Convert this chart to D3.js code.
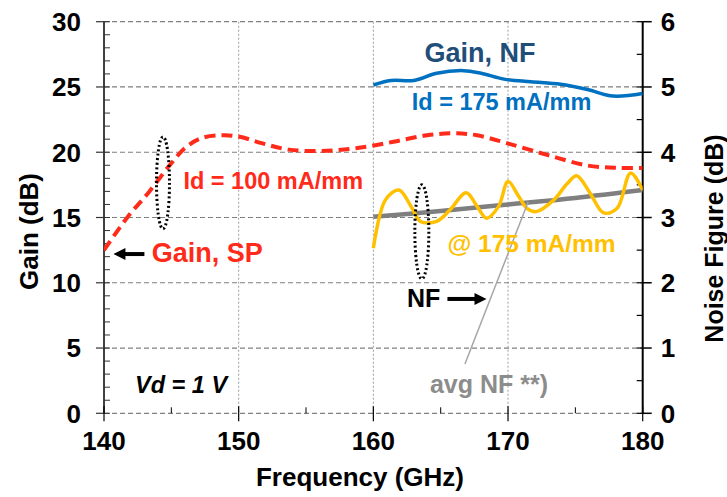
<!DOCTYPE html>
<meta charset="utf-8">
<style>
body { margin: 0; background: #fff; }
svg text { font-family: "Liberation Sans", Arial, sans-serif; font-weight: bold; }
.grid-h { stroke: #7f7f7f; stroke-width: 1.2px; stroke-dasharray: 5,3; }
.grid-v { stroke: #9a9a9a; stroke-width: 1px; stroke-dasharray: 2,2; }
</style>
<svg width="727" height="497"></svg>
<script src="https://d3js.org/d3.v7.min.js"></script>
<script>
// Gain, SP @ Id = 100 mA/mm (dB)
var spFreq = [140, 141.8, 143.3, 144.8, 146.1, 147.3, 148.8, 150, 151.7, 153.7, 156.2, 158.7, 161.5, 164, 166, 167.7, 169.9, 172.9, 175.8, 178.1, 180];
var spGain = [12.5, 15.1, 16.9, 18.9, 20.4, 21.1, 21.3, 21.2, 20.7, 20.2, 20.1, 20.3, 20.8, 21.3, 21.45, 21.3, 20.7, 19.8, 19.0, 18.8, 18.8];

// Gain from NF measurement @ Id = 175 mA/mm (dB)
var nfgFreq = [160, 161.3, 163, 164.7, 166.7, 168, 169.7, 171.7, 173.9, 175.9, 177.8, 180];
var nfgGain = [25.15, 25.5, 25.5, 26.05, 26.25, 26.05, 25.6, 25.4, 25.2, 24.8, 24.3, 24.5];

// Noise figure @ 175 mA/mm (dB)
var nfFreq = [160, 160.9, 161.9, 162.8, 163.5, 164.7, 165.7, 166.9, 167.7, 168.4, 169.3, 170, 170.8, 171.4, 172.1, 173.4, 174.4, 175.1, 176.1, 177.1, 178.1, 179.1, 180];
var nfVal  = [2.53, 3.27, 3.42, 3.17, 2.94, 2.94, 3.12, 3.38, 3.17, 2.99, 3.17, 3.55, 3.32, 3.14, 3.09, 3.27, 3.52, 3.64, 3.37, 3.07, 3.14, 3.68, 3.42];

// average NF (dB)
var avgFreq = [160, 165, 170, 175, 180];
var avgNF   = [3.01, 3.10, 3.20, 3.30, 3.42];

var xTicks = [140, 150, 160, 170, 180];
var gainTicks = [0, 5, 10, 15, 20, 25, 30];
var nfTicks = [0, 1, 2, 3, 4, 5, 6];

var svg = d3.select("svg"),
    margin = {top: 21.7, right: 84.3, bottom: 83.7, left: 104},
    width = +svg.attr("width") - margin.left - margin.right,
    height = +svg.attr("height") - margin.top - margin.bottom;

var g = svg.append("g").attr("transform", "translate(" + margin.left + "," + margin.top + ")");

var x = d3.scaleLinear().domain([140, 180]).range([0, width]);
var y = d3.scaleLinear().domain([0, 30]).range([height, 0]);
var y2 = d3.scaleLinear().domain([0, 6]).range([height, 0]);

// grid
g.append("g").selectAll("line").data([150, 160, 170]).enter().append("line")
    .attr("class", "grid-v")
    .attr("x1", x).attr("x2", x).attr("y1", 0).attr("y2", height);
g.append("g").selectAll("line").data(gainTicks).enter().append("line")
    .attr("class", "grid-h")
    .attr("x1", 0).attr("x2", width).attr("y1", y).attr("y2", y);

// left axis
var left = g.append("g");
left.append("line").attr("x1", 0).attr("x2", 0).attr("y1", 0).attr("y2", height)
    .attr("stroke", "#000").attr("stroke-width", 1.5);
left.selectAll(".minor").data(d3.range(0, 31)).enter().append("line")
    .attr("x1", 0).attr("x2", 6).attr("y1", y).attr("y2", y)
    .attr("stroke", "#333").attr("stroke-width", 1);
left.selectAll(".major").data(gainTicks).enter().append("line")
    .attr("x1", -8).attr("x2", 0).attr("y1", y).attr("y2", y)
    .attr("stroke", "#333").attr("stroke-width", 1.2);
left.selectAll("text").data(gainTicks).enter().append("text")
    .attr("x", -23).attr("y", y).attr("dy", "0.36em")
    .attr("text-anchor", "end").style("font-size", "26px")
    .text(function(d) { return d; });

// right axis
var right = g.append("g").attr("transform", "translate(" + width + ",0)");
right.append("line").attr("x1", 0).attr("x2", 0).attr("y1", 0).attr("y2", height)
    .attr("stroke", "#000").attr("stroke-width", 2);
right.selectAll(".minor").data(d3.range(0, 6.01, 0.5)).enter().append("line")
    .attr("x1", -6).attr("x2", 0).attr("y1", y2).attr("y2", y2)
    .attr("stroke", "#000").attr("stroke-width", 1.2);
right.selectAll(".major").data(nfTicks).enter().append("line")
    .attr("x1", 0).attr("x2", 9).attr("y1", y2).attr("y2", y2)
    .attr("stroke", "#000").attr("stroke-width", 1.5);
right.selectAll("text").data(nfTicks).enter().append("text")
    .attr("x", 18).attr("y", y2).attr("dy", "0.36em")
    .style("font-size", "26px")
    .text(function(d) { return d; });

// bottom axis ticks
var bottom = g.append("g").attr("transform", "translate(0," + height + ")");
bottom.selectAll(".major").data(xTicks).enter().append("line")
    .attr("x1", x).attr("x2", x).attr("y1", -7).attr("y2", 8)
    .attr("stroke", "#000").attr("stroke-width", 1.2);
bottom.selectAll(".minor").data([145, 155, 165, 175]).enter().append("line")
    .attr("x1", x).attr("x2", x).attr("y1", -6).attr("y2", 0)
    .attr("stroke", "#000").attr("stroke-width", 1);
bottom.selectAll("text").data(xTicks).enter().append("text")
    .attr("x", x).attr("y", 37)
    .attr("text-anchor", "middle").style("font-size", "26px")
    .text(function(d) { return d; });

// axis titles
svg.append("text").attr("transform", "translate(29," + (margin.top + height / 2 + 14) + ") rotate(-90)")
    .attr("text-anchor", "middle").attr("dy", "0.36em").style("font-size", "26px").text("Gain (dB)");
svg.append("text").attr("transform", "translate(714," + (margin.top + height / 2 + 21) + ") rotate(-90)")
    .attr("text-anchor", "middle").attr("dy", "0.34em").style("font-size", "25px").text("Noise Figure (dB)");
svg.append("text").attr("x", 360).attr("y", 486)
    .attr("text-anchor", "middle").style("font-size", "26px").text("Frequency (GHz)");

// curves
var clip = g.append("clipPath").attr("id", "plotclip").append("rect")
    .attr("x", 0).attr("y", -5).attr("width", width).attr("height", height + 5);

var lineGain = d3.line().x(function(d) { return x(d[0]); }).y(function(d) { return y(d[1]); })
    .curve(d3.curveCatmullRom.alpha(0.5));
var lineNF = d3.line().x(function(d) { return x(d[0]); }).y(function(d) { return y2(d[1]); })
    .curve(d3.curveCatmullRom.alpha(0.5));

var curves = g.append("g").attr("clip-path", "url(#plotclip)");

curves.append("path").datum(d3.zip(avgFreq, avgNF)).attr("d", lineNF)
    .attr("fill", "none").attr("stroke", "#7f7f7f").attr("stroke-width", 4.5);

curves.append("path").datum(d3.zip(nfFreq, nfVal)).attr("d", lineNF)
    .attr("fill", "none").attr("stroke", "#ffc000").attr("stroke-width", 3.5);

curves.append("path").datum(d3.zip(nfgFreq, nfgGain)).attr("d", lineGain)
    .attr("fill", "none").attr("stroke", "#0070c0").attr("stroke-width", 3.5);

curves.append("path").datum(d3.zip(spFreq, spGain)).attr("d", lineGain)
    .attr("fill", "none").attr("stroke", "#ff2a1a").attr("stroke-width", 4)
    .attr("stroke-dasharray", "11,6");

// ellipses
g.append("ellipse").attr("cx", x(144.38)).attr("cy", y(17.65)).attr("rx", 6.5).attr("ry", 46)
    .attr("fill", "none").attr("stroke", "#000").attr("stroke-width", 3).attr("stroke-dasharray", "2,2.5");
g.append("ellipse").attr("cx", x(163.6)).attr("cy", y(13.9)).attr("rx", 7).attr("ry", 47)
    .attr("fill", "none").attr("stroke", "#000").attr("stroke-width", 3).attr("stroke-dasharray", "2,2.5");

// leader to avg NF
g.append("line").attr("x1", x(166.8)).attr("y1", y(3.78)).attr("x2", x(171.5)).attr("y2", y(16.2))
    .attr("stroke", "#a6a6a6").attr("stroke-width", 1.5);

// arrows
function arrow(x1, yv, x2) {
  var dir = x2 > x1 ? 1 : -1;
  var px1 = x(x1), px2 = x(x2), py = y(yv);
  g.append("line").attr("x1", px1).attr("y1", py).attr("x2", px2 - dir * 8).attr("y2", py)
      .attr("stroke", "#000").attr("stroke-width", 4);
  g.append("path").attr("d", "M" + px2 + "," + py + "L" + (px2 - dir * 12) + "," + (py - 6) + "L" + (px2 - dir * 12) + "," + (py + 6) + "Z")
      .attr("fill", "#000");
}
arrow(143.0, 12.2, 140.7);
arrow(165.5, 8.76, 168.4);

// annotations
function label(txt, f, gv, color, size, italic) {
  var t = g.append("text").attr("x", x(f)).attr("y", y(gv)).attr("fill", color)
      .style("font-size", size + "px").text(txt);
  if (italic) t.style("font-style", "italic");
  return t;
}
label("Gain, SP", 143.54, 11.6, "#ff2a1a", 27);
label("Id = 100 mA/mm", 145.9, 17.2, "#ff2a1a", 23.5);
label("Gain, NF", 163.8, 26.9, "#1f4e79", 27);
label("Id = 175 mA/mm", 162.85, 23.25, "#0070c0", 23.5);
label("@ 175 mA/mm", 165.5, 12.35, "#ffc000", 24.5);
label("NF", 162.5, 8.15, "#000", 25);
label("avg NF **)", 164.2, 1.55, "#8c8c8c", 25);
label("Vd = 1 V", 142.3, 1.55, "#000", 23.5, true);
</script>
